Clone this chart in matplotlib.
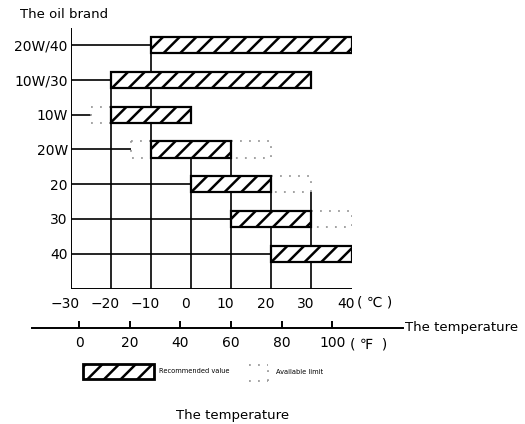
import numpy as np
import matplotlib
matplotlib.use("Agg")
import matplotlib.pyplot as plt
import matplotlib.transforms as mtransforms
from matplotlib.patches import Rectangle
from matplotlib.lines import Line2D

plt.rcParams['font.family'] = ['DejaVu Sans']
plt.rcParams['hatch.linewidth'] = 1.8

# ---- data ----
brands = ['20W/40', '10W/30', '10W', '20W', '20', '30', '40']
rec_lo = [-10, -20, -20, -10, 0, 10, 20]          # recommended range, deg C
rec_hi = [40, 30, 0, 10, 20, 30, 40]
avail_lo = [None, None, -25, -15, None, None, None]  # available limit, left side
avail_hi = [None, None, None, 20, 30, 40, None]      # available limit, right side

c_ticks = [-30, -20, -10, 0, 10, 20, 30, 40]
f_ticks = [0, 20, 40, 60, 80, 100]

# vertical grid lines: temperature and the row they reach up to
grid_t = [-20, -10, 0, 10, 20, 30]
grid_row = [1, 0, 3, 3, 4, 4]
grid_side = [-1, 0, 1, -1, -1, 1]   # -1 bar top, 0 row centre, 1 bar bottom

h = 0.47
rows = np.arange(len(brands))

fig = plt.figure(figsize=(5.25, 4.24), dpi=100)
ax = fig.add_axes([70.6 / 525, 1 - 288.5 / 424, 281 / 525, 260.7 / 424])
ax.set_xlim(-30, 40)
ax.set_ylim(7, -0.5)
for s in ax.spines.values():
    s.set_visible(False)

lw = 1.2
# left axis and base line
ax.vlines(-30, -0.5, 7, color='black', lw=1.4, zorder=1)
ax.hlines(7, -30, 40, color='black', lw=1.4, zorder=1)

# row lines from the axis to the first mark of each row
for r in rows:
    start = rec_lo[r] if avail_lo[r] is None else avail_lo[r]
    ax.hlines(r, -30, start, color='black', lw=lw, zorder=1)

for t, r, sd in zip(grid_t, grid_row, grid_side):
    ax.vlines(t, r + sd * h / 2, 7, color='black', lw=lw, zorder=1)

# available limit (dotted boxes)
dot = dict(facecolor='none', edgecolor='#9a9a9a', lw=1.3, linestyle=(0, (1, 4)), zorder=2)
for r in rows:
    if avail_lo[r] is not None:
        ax.barh(r, rec_lo[r] - avail_lo[r], left=avail_lo[r], height=h, **dot)
    if avail_hi[r] is not None:
        ax.barh(r, avail_hi[r] - rec_hi[r], left=rec_hi[r], height=h, **dot)

# recommended value (hatched bars)
ax.barh(rows, np.array(rec_hi) - np.array(rec_lo), left=rec_lo, height=h,
        facecolor='white', edgecolor='black', lw=1.6, hatch='//', zorder=3)

ax.set_xticks(c_ticks)
ax.set_xticklabels([str(v).replace('-', '\u2212') for v in c_ticks], fontsize=10)
ax.tick_params(axis='x', length=0, pad=6)
shift = mtransforms.ScaledTranslation(-6 / 100, 0, fig.dpi_scale_trans)
for lab in ax.get_xticklabels():
    lab.set_transform(lab.get_transform() + shift)
ax.set_yticks(rows)
ax.set_yticklabels(brands, fontsize=10)
ax.tick_params(axis='y', length=0, pad=2)

fig.text(357 / 525, 1 - 303 / 424, '( \u2103 )', fontsize=10, ha='left', va='center')
fig.text(20 / 525, 1 - 14 / 424, 'The oil brand', fontsize=9.5, ha='left', va='center')

# Fahrenheit scale
axf = fig.add_axes([32 / 525, 1 - 328 / 424, 371 / 525, 0.02])
axf.set_xlim(-18.6, 128)
axf.set_yticks([])
for k in ['top', 'left', 'right']:
    axf.spines[k].set_visible(False)
axf.spines['bottom'].set_linewidth(1.4)
axf.patch.set_alpha(0)
axf.set_xticks(f_ticks)
axf.set_xticklabels([str(v) for v in f_ticks], fontsize=10)
axf.tick_params(axis='x', direction='in', length=5, width=1.4, pad=6)
fig.text(350 / 525, 1 - 344 / 424, '( \u2109  )', fontsize=10, ha='left', va='center')
fig.text(405 / 525, 1 - 327 / 424, 'The temperature', fontsize=9.5, ha='left', va='center')

# legend
fig.add_artist(Rectangle((83 / 525, 1 - 379 / 424), 71 / 525, 15 / 424, transform=fig.transFigure,
                         facecolor='white', edgecolor='black', lw=2, hatch='//'))
fig.text(159 / 525, 1 - 371 / 424, 'Recommended value', fontsize=4.8, ha='left', va='center')
x0, x1, y0, y1 = 249 / 525, 268 / 525, 1 - 381 / 424, 1 - 365 / 424
for xs, ys in [([x0, x1], [y1, y1]), ([x0, x1], [y0, y0]), ([x1, x1], [y0, y1])]:
    fig.add_artist(Line2D(xs, ys, transform=fig.transFigure, color='#9a9a9a', lw=1.3,
                          linestyle=(0, (1, 4))))
fig.text(276 / 525, 1 - 372 / 424, 'Available limit', fontsize=4.8, ha='left', va='center')

fig.text(233 / 525, 1 - 415 / 424, 'The temperature', fontsize=9.5, ha='center', va='center')

fig.savefig('out.png', dpi=100)
